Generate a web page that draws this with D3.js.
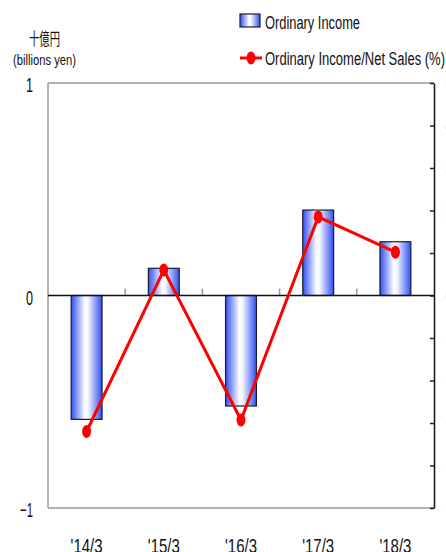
<!DOCTYPE html>
<html><head><meta charset="utf-8">
<script src="https://cdn.jsdelivr.net/npm/d3@7"></script>
<style>body{margin:0;background:#fff}svg{display:block}</style>
</head><body>
<svg id="c" width="446" height="552"></svg>
<script>
const categories = ["'14/3","'15/3","'16/3","'17/3","'18/3"];
const ordinaryIncome = [-0.583, 0.128, -0.52, 0.402, 0.253];
const incomeRatio = [-3.2, 0.6, -2.93, 1.85, 1.02];
const leftTicks = [1, 0, -1];
const rightTicks = [5,4,3,2,1,0,-1,-2,-3,-4,-5];

const FONT = "'Liberation Sans',Arial,sans-serif";
const svg = d3.select("#c");
const L = 48, R = 434, T = 83, B = 508;

const defs = svg.append("defs");
const g = defs.append("linearGradient").attr("id","bg").attr("x1","0").attr("x2","1").attr("y1","0").attr("y2","0");
g.append("stop").attr("offset","0").attr("stop-color","#2f4ff0");
g.append("stop").attr("offset","0.45").attr("stop-color","#ffffff");
g.append("stop").attr("offset","0.55").attr("stop-color","#f4f6ff");
g.append("stop").attr("offset","1").attr("stop-color","#2f4ff0");

const x = d3.scaleBand().domain(categories).range([L,R]).paddingInner(0.6).paddingOuter(0.3);
const yL = d3.scaleLinear().domain([-1,1]).range([B,T]);
const yR = d3.scaleLinear().domain([-5,5]).range([B,T]);

function narrow(sel, w){ sel.attr("textLength", w).attr("lengthAdjust","spacingAndGlyphs"); }

// frame
svg.append("line").attr("x1",L).attr("x2",R).attr("y1",T).attr("y2",T).attr("stroke","#999").attr("stroke-width",1.5);
svg.append("line").attr("x1",L).attr("x2",R).attr("y1",B).attr("y2",B).attr("stroke","#999").attr("stroke-width",1.5);
svg.append("line").attr("x1",L).attr("x2",L).attr("y1",T).attr("y2",B).attr("stroke","#999").attr("stroke-width",1.5);

// left axis
const la = svg.append("g").attr("transform",`translate(${L},0)`)
  .call(d3.axisLeft(yL).tickValues(leftTicks).tickSize(0).tickPadding(15).tickFormat(d=>d===-1?"\u22121":d));
la.select(".domain").remove();
la.selectAll("text").attr("font-family",FONT).attr("font-size",21).attr("fill","#111").attr("dy","0.42em")
  .each(function(d){ narrow(d3.select(this), d===-1?13:7); });

// right axis
const ra = svg.append("g").attr("transform",`translate(${R},0)`)
  .call(d3.axisRight(yR).tickValues(rightTicks).tickSizeInner(-4).tickSizeOuter(0).tickPadding(11));
ra.select(".domain").attr("stroke","#111").attr("stroke-width",1.5);
ra.selectAll(".tick line").attr("stroke","#222").attr("stroke-width",1.5);
ra.selectAll("text").attr("font-family",FONT).attr("font-size",18).attr("fill","#ccc");

// category separator ticks on zero line
const seps = categories.slice(1).map((c)=>x(c) - x.step()*x.paddingInner()/2);
svg.append("g").selectAll("line").data(seps).join("line")
  .attr("x1",d=>d).attr("x2",d=>d).attr("y1",yL(0)).attr("y2",yL(0)-7)
  .attr("stroke","#999").attr("stroke-width",1.5);

// bars
svg.append("g").selectAll("rect").data(ordinaryIncome).join("rect")
  .attr("x",(d,i)=>x(categories[i])).attr("width",x.bandwidth())
  .attr("y",d=>yL(Math.max(0,d))).attr("height",d=>Math.abs(yL(d)-yL(0)))
  .attr("fill","url(#bg)").attr("stroke","#1a1a3a").attr("stroke-width",1.2);

// zero line
svg.append("line").attr("x1",L).attr("x2",R).attr("y1",yL(0)).attr("y2",yL(0)).attr("stroke","#111").attr("stroke-width",1.5);

// x labels
svg.append("g").selectAll("text").data(categories).join("text")
  .attr("x",d=>x(d)+x.bandwidth()/2-16).attr("y",553)
  .attr("font-family",FONT).attr("font-size",21).attr("fill","#111").text(d=>d)
  .call(s=>narrow(s,32));

// line
const cx = (i)=>x(categories[i])+x.bandwidth()/2;
svg.append("path").datum(incomeRatio)
  .attr("d",d3.line().x((d,i)=>cx(i)).y(d=>yR(d)))
  .attr("fill","none").attr("stroke","#ff0000").attr("stroke-width",3);
svg.append("g").selectAll("ellipse").data(incomeRatio).join("ellipse")
  .attr("cx",(d,i)=>cx(i)).attr("cy",d=>yR(d)).attr("rx",4.5).attr("ry",6.5)
  .attr("fill","#ff0000");

// unit labels
svg.append("text").attr("x",29).attr("y",45)
  .attr("font-family","'Noto Sans CJK JP',sans-serif").attr("font-size",17).attr("fill","#111").text("十億円")
  .call(s=>narrow(s,31));
svg.append("text").attr("x",13).attr("y",65)
  .attr("font-family",FONT).attr("font-size",15).attr("fill","#111").text("(billions  yen)")
  .call(s=>narrow(s,63));

// legend
svg.append("rect").attr("x",240).attr("y",14).attr("width",20).attr("height",13)
  .attr("fill","url(#bg)").attr("stroke","#1a1a3a").attr("stroke-width",1.2);
svg.append("text").attr("x",265).attr("y",29).attr("font-family",FONT).attr("font-size",18).attr("fill","#111").text("Ordinary Income")
  .call(s=>narrow(s,95));
svg.append("line").attr("x1",240).attr("x2",262).attr("y1",58).attr("y2",58).attr("stroke","#ff0000").attr("stroke-width",3);
svg.append("ellipse").attr("cx",251).attr("cy",58).attr("rx",4.5).attr("ry",6.5).attr("fill","#ff0000");
svg.append("text").attr("x",265).attr("y",65).attr("font-family",FONT).attr("font-size",18).attr("fill","#111").text("Ordinary Income/Net Sales (%)")
  .call(s=>narrow(s,180));
</script>
</body></html>
